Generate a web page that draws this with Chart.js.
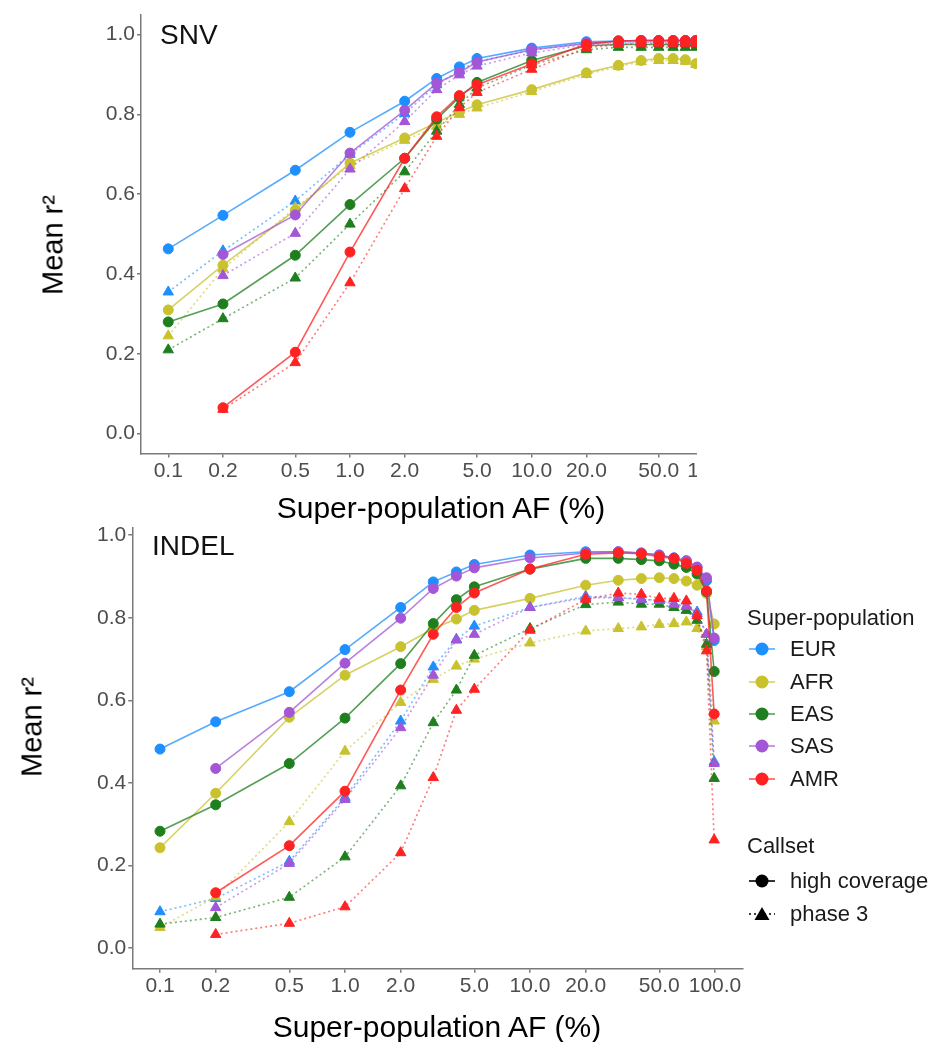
<!DOCTYPE html>
<html>
<head>
<meta charset="utf-8">
<title>Mean r2 by super-population AF</title>
<script src="https://cdn.jsdelivr.net/npm/chart.js@4.4.1/dist/chart.umd.min.js"></script>
<style>
  html, body { margin: 0; padding: 0; background: #fff; }
  body {
    width: 949px; height: 1042px; position: relative; overflow: hidden;
    font-family: "Liberation Sans", Arial, sans-serif;
  }
  .panel { position: absolute; left: 0; overflow: hidden; }
  .panel canvas { position: absolute; left: 0; }
  .txt { position: absolute; white-space: nowrap; line-height: 1; color: #000; z-index: 5; }
  .xtitle { font-size: 30px; transform: translateX(-50%); }
  .ytitle { font-size: 29px; transform: translate(-50%, -50%) rotate(-90deg); }
  .tag { font-size: 28px; color: #111; }
  .leg { font-size: 22px; color: #1a1a1a; }
  .key { position: absolute; z-index: 5; }
</style>
</head>
<body>

<div class="panel" id="snvPanel" style="top:0; width:697px; height:527px;">
  <canvas id="snvChart" width="760" height="540" style="top:0;"></canvas>
</div>
<div class="panel" id="indelPanel" style="top:527px; width:949px; height:515px;">
  <canvas id="indelChart" width="760" height="542" style="top:-27px;"></canvas>
</div>

<div class="txt tag" style="left:160px; top:21px;">SNV</div>
<div class="txt tag" style="left:152px; top:532px;">INDEL</div>
<div class="txt xtitle" style="left:441px; top:493px;">Super-population AF (%)</div>
<div class="txt xtitle" style="left:437px; top:1012px;">Super-population AF (%)</div>
<div class="txt ytitle" style="left:53px; top:245px;">Mean r²</div>
<div class="txt ytitle" style="left:32px; top:727px;">Mean r²</div>

<div id="legend"></div>

<script>
// x positions (allele frequency, %)
const snvAf = [0.1, 0.2, 0.5, 1, 2, 3, 4, 5, 10, 20, 30, 40, 50, 60, 70, 80];
const indelAf = [0.1, 0.2, 0.5, 1, 2, 3, 4, 5, 10, 20, 30, 40, 50, 60, 70, 80, 90, 99];

const xTickValues = [0.1, 0.2, 0.5, 1, 2, 5, 10, 20, 50, 100];
const xTickLabels = ["0.1", "0.2", "0.5", "1.0", "2.0", "5.0", "10.0", "20.0", "50.0", "100.0"];
const yTickValues = [0, 0.2, 0.4, 0.6, 0.8, 1.0];
const yTickLabels = ["0.0", "0.2", "0.4", "0.6", "0.8", "1.0"];

const populations = ["EUR", "AFR", "EAS", "SAS", "AMR"];
const callsets = ["high coverage", "phase 3"];

// SNV panel
const snvEurHigh   = [0.463, 0.547, 0.660, 0.755, 0.833, 0.890, 0.919, 0.940, 0.966, 0.982, 0.984, 0.985, 0.985, 0.985, 0.985, 0.985];
const snvEurPhase3 = [0.355, 0.458, 0.583, 0.700, 0.802, 0.874, 0.910, 0.932, 0.961, 0.978, 0.980, 0.982, 0.982, 0.982, 0.982, 0.982];
const snvAfrHigh   = [0.310, 0.422, 0.560, 0.678, 0.741, 0.780, 0.806, 0.824, 0.862, 0.904, 0.923, 0.935, 0.940, 0.940, 0.937, 0.927];
const snvAfrPhase3 = [0.245, 0.413, 0.566, 0.672, 0.735, 0.770, 0.800, 0.816, 0.857, 0.900, 0.920, 0.932, 0.935, 0.935, 0.933, 0.925];
const snvEasHigh   = [0.280, 0.325, 0.447, 0.574, 0.690, 0.788, 0.843, 0.880, 0.935, 0.972, 0.975, 0.975, 0.975, 0.975, 0.975, 0.975];
const snvEasPhase3 = [0.210, 0.288, 0.390, 0.525, 0.656, 0.758, 0.825, 0.866, 0.924, 0.962, 0.968, 0.968, 0.968, 0.968, 0.968, 0.968];
const snvSasHigh   = [null, 0.449, 0.548, 0.703, 0.810, 0.878, 0.905, 0.931, 0.962, 0.978, 0.984, 0.985, 0.985, 0.985, 0.985, 0.985];
const snvSasPhase3 = [null, 0.396, 0.502, 0.663, 0.782, 0.862, 0.899, 0.921, 0.954, 0.975, 0.978, 0.980, 0.980, 0.980, 0.980, 0.980];
const snvAmrHigh   = [null, 0.065, 0.204, 0.455, 0.690, 0.794, 0.847, 0.874, 0.926, 0.976, 0.984, 0.985, 0.985, 0.985, 0.985, 0.985];
const snvAmrPhase3 = [null, 0.061, 0.178, 0.378, 0.614, 0.745, 0.817, 0.855, 0.913, 0.967, 0.975, 0.978, 0.978, 0.978, 0.978, 0.978];

// INDEL panel
const indelEurHigh   = [0.482, 0.548, 0.621, 0.723, 0.825, 0.887, 0.911, 0.929, 0.952, 0.960, 0.960, 0.957, 0.952, 0.945, 0.938, 0.922, 0.890, 0.745];
const indelEurPhase3 = [0.088, 0.120, 0.210, 0.365, 0.550, 0.681, 0.748, 0.780, 0.825, 0.852, 0.849, 0.845, 0.842, 0.833, 0.828, 0.814, 0.760, 0.451];
const indelAfrHigh   = [0.243, 0.375, 0.559, 0.661, 0.730, 0.774, 0.797, 0.818, 0.847, 0.879, 0.891, 0.895, 0.897, 0.895, 0.889, 0.879, 0.859, 0.785];
const indelAfrPhase3 = [0.050, 0.124, 0.306, 0.477, 0.595, 0.651, 0.683, 0.700, 0.739, 0.768, 0.774, 0.778, 0.784, 0.786, 0.790, 0.774, 0.730, 0.550];
const indelEasHigh   = [0.283, 0.347, 0.447, 0.557, 0.689, 0.786, 0.844, 0.875, 0.918, 0.944, 0.944, 0.941, 0.938, 0.930, 0.922, 0.906, 0.863, 0.670];
const indelEasPhase3 = [0.058, 0.074, 0.123, 0.221, 0.393, 0.546, 0.625, 0.709, 0.774, 0.832, 0.838, 0.833, 0.833, 0.825, 0.818, 0.794, 0.736, 0.411];
const indelSasHigh   = [null, 0.435, 0.571, 0.690, 0.799, 0.871, 0.901, 0.921, 0.945, 0.957, 0.960, 0.957, 0.952, 0.945, 0.938, 0.923, 0.897, 0.751];
const indelSasPhase3 = [null, 0.098, 0.205, 0.360, 0.534, 0.661, 0.746, 0.760, 0.825, 0.849, 0.849, 0.845, 0.842, 0.833, 0.828, 0.810, 0.760, 0.447];
const indelAmrHigh   = [null, 0.134, 0.248, 0.380, 0.625, 0.760, 0.825, 0.860, 0.918, 0.954, 0.957, 0.955, 0.948, 0.944, 0.932, 0.915, 0.865, 0.567];
const indelAmrPhase3 = [null, 0.033, 0.060, 0.100, 0.231, 0.413, 0.576, 0.627, 0.770, 0.845, 0.860, 0.857, 0.847, 0.847, 0.841, 0.805, 0.720, 0.262];

const POP_COLORS = ["30,143,255", "201,194,47", "31,127,31", "163,86,214", "255,34,34"];
const FONT = "'Liberation Sans', Arial, sans-serif";
const AXIS_GREY = "#7a7a7a";

// ggplot-style 5% expansion on log10(0.1..100)
const X_MIN = Math.pow(10, -1.15);
const X_MAX = Math.pow(10, 2.15);

function toPoints(af, values) {
  return af.map((x, i) => ({ x: x, y: values[i] }));
}

function buildDatasets(af, highList, phase3List) {
  const out = [];
  populations.forEach((pop, i) => {
    const c = POP_COLORS[i];
    out.push({
      label: pop + " " + callsets[1],
      data: toPoints(af, phase3List[i]),
      borderColor: "rgba(" + c + ",0.6)",
      backgroundColor: "rgb(" + c + ")",
      pointBorderColor: "rgb(" + c + ")",
      borderWidth: 1.6,
      borderDash: [2, 3],
      pointStyle: "triangle",
      pointRadius: 6,
      pointBorderWidth: 1,
      tension: 0,
    });
    out.push({
      label: pop + " " + callsets[0],
      data: toPoints(af, highList[i]),
      borderColor: "rgba(" + c + ",0.75)",
      backgroundColor: "rgb(" + c + ")",
      pointBorderColor: "rgb(" + c + ")",
      borderWidth: 1.6,
      pointStyle: "circle",
      pointRadius: 5,
      pointBorderWidth: 1,
      tension: 0,
    });
  });
  // Chart.js paints dataset 0 last, so reverse to keep AMR on top like the original
  return out.reverse();
}

function makeChart(id, datasets, box) {
  const tickFont = { family: FONT, size: 21 };
  return new Chart(document.getElementById(id), {
    type: "line",
    data: { datasets },
    options: {
      responsive: false,
      animation: false,
      events: [],
      layout: { padding: { top: box.top, right: box.right, left: 0, bottom: 0 } },
      plugins: { legend: { display: false }, tooltip: { enabled: false } },
      scales: {
        x: {
          type: "logarithmic",
          min: X_MIN,
          max: X_MAX,
          afterBuildTicks: (s) => { s.ticks = xTickValues.map((v) => ({ value: v })); },
          afterFit: (s) => { s.height = box.xh; },
          ticks: {
            autoSkip: false, maxRotation: 0, minRotation: 0, padding: 1,
            color: "#4d4d4d", font: tickFont,
            callback: (v, i) => xTickLabels[i],
          },
          grid: { drawOnChartArea: false, tickLength: 4, color: AXIS_GREY, lineWidth: 1.5 },
          border: { display: true, color: AXIS_GREY, width: 1.5 },
        },
        y: {
          type: "linear",
          min: -0.05,
          max: 1.05,
          afterBuildTicks: (s) => { s.ticks = yTickValues.map((v) => ({ value: v })); },
          afterFit: (s) => { s.width = box.yw; },
          ticks: {
            padding: 2, color: "#4d4d4d", font: tickFont,
            callback: (v, i) => yTickLabels[i],
          },
          grid: { drawOnChartArea: false, tickLength: 4, color: AXIS_GREY, lineWidth: 1.5 },
          border: { display: true, color: AXIS_GREY, width: 1.5 },
        },
      },
    },
  });
}

makeChart("snvChart",
  buildDatasets(snvAf,
    [snvEurHigh, snvAfrHigh, snvEasHigh, snvSasHigh, snvAmrHigh],
    [snvEurPhase3, snvAfrPhase3, snvEasPhase3, snvSasPhase3, snvAmrPhase3]),
  { top: 7, right: 19.3, yw: 141, xh: 86.4 });

makeChart("indelChart",
  buildDatasets(indelAf,
    [indelEurHigh, indelAfrHigh, indelEasHigh, indelSasHigh, indelAmrHigh],
    [indelEurPhase3, indelAfrPhase3, indelEasPhase3, indelSasPhase3, indelAmrPhase3]),
  { top: 14.4, right: 17.25, yw: 132.25, xh: 73.3 });

// legend (two groups, ggplot style)
function keySvg(color, lineColor, dashed, shape) {
  const dash = dashed ? ' stroke-dasharray="2,3"' : "";
  const mark = shape === "circle"
    ? '<circle cx="14" cy="10" r="6.5" fill="' + color + '"/>'
    : '<polygon points="14,3 21.5,16 6.5,16" fill="' + color + '"/>';
  return '<svg width="28" height="20" viewBox="0 0 28 20">' +
    '<line x1="1" y1="10" x2="27" y2="10" stroke="' + lineColor + '" stroke-width="1.6"' + dash + '/>' +
    mark + "</svg>";
}

const legend = document.getElementById("legend");
function addText(text, left, mid) {
  const d = document.createElement("div");
  d.className = "txt leg";
  d.style.left = left + "px";
  d.style.top = (mid - 0.4885 * 22) + "px";
  d.textContent = text;
  legend.appendChild(d);
}
function addKey(html, mid) {
  const d = document.createElement("div");
  d.className = "key";
  d.style.left = "748px";
  d.style.top = (mid - 10) + "px";
  d.innerHTML = html;
  legend.appendChild(d);
}

addText("Super-population", 747, 618);
const popRows = [649, 682, 714, 746, 779];
populations.forEach((pop, i) => {
  const c = POP_COLORS[i];
  addKey(keySvg("rgb(" + c + ")", "rgba(" + c + ",0.75)", false, "circle"), popRows[i]);
  addText(pop, 790, popRows[i]);
});
addText("Callset", 747, 846);
addKey(keySvg("#000", "#000", false, "circle"), 881);
addText(callsets[0], 790, 881);
addKey(keySvg("#000", "#000", true, "triangle"), 914);
addText(callsets[1], 790, 914);
</script>
</body>
</html>
